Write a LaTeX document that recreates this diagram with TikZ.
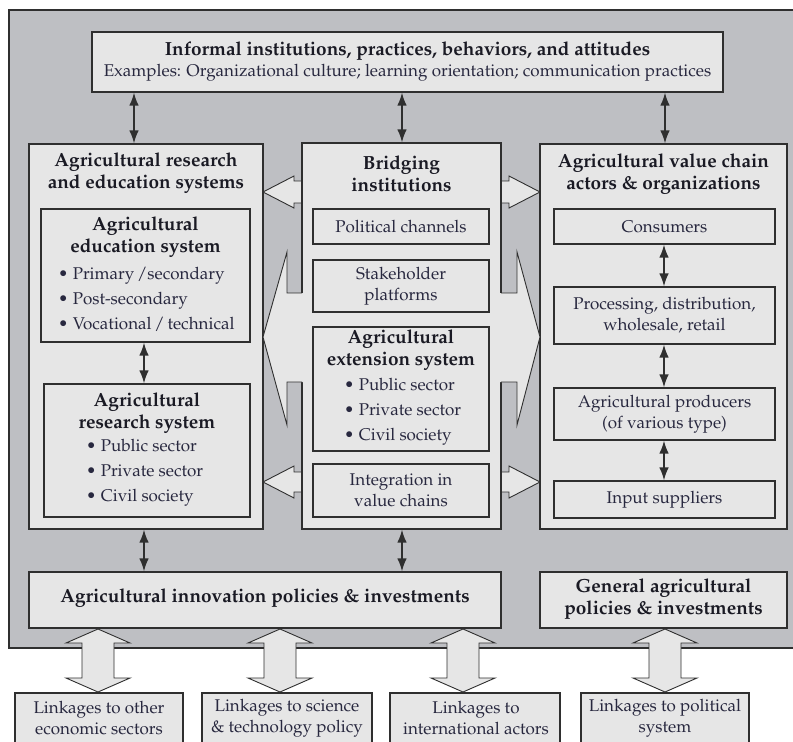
\documentclass[tikz,border=0pt]{standalone}
\usepackage[T1]{fontenc}
\renewcommand{\rmdefault}{ppl}
\usetikzlibrary{arrows.meta}
\definecolor{framegray}{HTML}{BEBFC3}
\definecolor{boxfill}{HTML}{E6E6E6}
\definecolor{edgec}{HTML}{2F2F2F}
\definecolor{titlec}{HTML}{1A1A24}
\definecolor{bodyc}{HTML}{28283F}
\begin{document}
\begin{tikzpicture}[x=1pt,y=-1pt,
  box/.style={draw=edgec, line width=1.1pt, fill=boxfill, inner sep=0pt, rectangle},
  ttl/.style={font=\fontsize{19}{22}\selectfont\bfseries, text=titlec, align=center, inner sep=0pt},
  txt/.style={font=\fontsize{17}{21}\selectfont, text=bodyc, align=center, inner sep=0pt},
  lst/.style={font=\fontsize{17}{25}\selectfont, text=bodyc, align=left, anchor=west, inner sep=0pt},
  dbl/.style={{Latex[length=13pt,width=9.5pt]}-{Latex[length=13pt,width=9.5pt]}, line width=1.7pt, draw=edgec},
  blk/.style={draw=edgec, line width=0.9pt, fill=boxfill, line join=miter}]
\useasboundingbox (0,0) rectangle (793,742);
\fill[white] (0,0) rectangle (793,742);
\clip (0,0) rectangle (793,742);

% outer frame
\node[draw=edgec, line width=1.2pt, fill=framegray, inner sep=0pt, minimum width=801pt, minimum height=638pt] (frame) at (409.5,329) {};

% side block arrows (top and bottom rows)
\draw[blk] (303,181) -- (294,181) -- (294,176) -- (263,192) -- (294,208) -- (294,203) -- (303,203) -- cycle;
\draw[blk] (500,181) -- (509,181) -- (509,176) -- (540,192) -- (509,208) -- (509,203) -- (500,203) -- cycle;
\draw[blk] (303,472) -- (294,472) -- (294,466) -- (263,482) -- (294,498) -- (294,492) -- (303,492) -- cycle;
\draw[blk] (500,472) -- (509,472) -- (509,466) -- (540,482) -- (509,498) -- (509,492) -- (500,492) -- cycle;

% bottom vertical double block arrows
\foreach \cx in {98,280,463,665}{
  \draw[blk] (\cx,629) -- (\cx+32,643) -- (\cx+16,643) -- (\cx+16,678) -- (\cx+32,678) -- (\cx,692)
     -- (\cx-32,678) -- (\cx-16,678) -- (\cx-16,643) -- (\cx-32,643) -- cycle;
}

% boxes
\node[box, minimum width=631pt, minimum height=60pt] (top) at (407.5,62) {};
\node[box, minimum width=234pt, minimum height=385pt] (ares) at (146,336.5) {};
\node[box, minimum width=209pt, minimum height=133pt] (edu) at (145.5,275.5) {};
\node[box, minimum width=206pt, minimum height=133pt] (res) at (147,450.5) {};
\node[box, minimum width=199pt, minimum height=386pt] (bridge) at (401.5,336) {};
\node[box, minimum width=247pt, minimum height=385pt] (vc) at (663.5,336.5) {};
\node[box, minimum width=472pt, minimum height=56pt] (innov) at (265,600) {};
\node[box, minimum width=247pt, minimum height=56pt] (gen) at (663.5,600) {};

% big wedges from the bridging box
\fill[boxfill] (304,293) -- (287,293) -- (287,252) -- (263,337) -- (287,425) -- (287,382) -- (304,382) -- cycle;
\draw[edgec, line width=0.9pt, line join=miter] (302,293) -- (287,293) -- (287,252) -- (263,337) -- (287,425) -- (287,382) -- (302,382);
\fill[boxfill] (499,293) -- (517,293) -- (517,252) -- (540,337) -- (517,425) -- (517,382) -- (499,382) -- cycle;
\draw[edgec, line width=0.9pt, line join=miter] (501,293) -- (517,293) -- (517,252) -- (540,337) -- (517,425) -- (517,382) -- (501,382);

% inner boxes
\node[box, minimum width=176pt, minimum height=35pt] (pol) at (401,226.5) {};
\node[box, minimum width=176pt, minimum height=52pt] (stake) at (401,286) {};
\node[box, minimum width=176pt, minimum height=124pt] (ext) at (401,389) {};
\node[box, minimum width=176pt, minimum height=53pt] (integ) at (401,490.5) {};
\node[box, minimum width=221pt, minimum height=35pt] (cons) at (664.5,226.5) {};
\node[box, minimum width=221pt, minimum height=57pt] (proc) at (664.5,315.5) {};
\node[box, minimum width=221pt, minimum height=52pt] (prod) at (664.5,414) {};
\node[box, minimum width=221pt, minimum height=37pt] (inp) at (664.5,499.5) {};

% bottom linkage boxes
\node[box, minimum width=168pt, minimum height=67pt] (l1) at (99,726.5) {};
\node[box, minimum width=170pt, minimum height=67pt] (l2) at (287,726.5) {};
\node[box, minimum width=170pt, minimum height=67pt] (l3) at (475,726.5) {};
\node[box, minimum width=168pt, minimum height=67pt] (l4) at (665,726.5) {};

% texts
\node[ttl] (topT) at (407.5,51) {Informal institutions, practices, behaviors, and attitudes};
\node[txt] (topS) at (407.5,73) {Examples: Organizational culture; learning orientation; communication practices};
\node[ttl] (aresT) at (146,173) {Agricultural research\\and education systems};
\node[ttl] (eduT) at (145.5,237) {Agricultural\\education system};
\node[lst] (eduL) at (58,299) {\textbullet\ Primary\,/secondary\\\textbullet\ Post-secondary\\\textbullet\ Vocational\,/\,technical};
\node[ttl] (resT) at (147,413) {Agricultural\\research system};
\node[lst] (resL) at (86,473) {\textbullet\ Public sector\\\textbullet\ Private sector\\\textbullet\ Civil society};
\node[ttl] (brT) at (401.5,174) {Bridging\\institutions};
\node[txt] (polT) at (401,226.5) {Political channels};
\node[txt] (stT) at (401,286) {Stakeholder\\platforms};
\node[ttl] (extT) at (401,350) {Agricultural\\extension system};
\node[lst] (extL) at (344,412) {\textbullet\ Public sector\\\textbullet\ Private sector\\\textbullet\ Civil society};
\node[txt] (intT) at (401,490.5) {Integration in\\value chains};
\node[ttl] (vcT) at (663.5,174) {Agricultural value chain\\actors \& organizations};
\node[txt] (consT) at (664.5,226.5) {Consumers};
\node[txt] (procT) at (664.5,315.5) {Processing, distribution,\\wholesale, retail};
\node[txt] (prodT) at (664.5,414) {Agricultural producers\\(of various type)};
\node[txt] (inpT) at (664.5,499.5) {Input suppliers};
\node[ttl] (innovT) at (265,598) {Agricultural innovation policies \& investments};
\node[ttl] (genT) at (663.5,599) {General agricultural\\policies \& investments};
\node[txt] (l1T) at (99,718) {Linkages to other\\economic sectors};
\node[txt] (l2T) at (287,718) {Linkages to science\\\& technology policy};
\node[txt] (l3T) at (476,718) {Linkages to\\international actors};
\node[txt] (l4T) at (665,718) {Linkages to political\\system};

% thin double arrows
\coordinate (xa) at (134,0);
\coordinate (xb) at (402,0);
\coordinate (xc) at (665,0);
\coordinate (xd) at (144,0);
\coordinate (xe) at (664,0);
\draw[dbl] (top.south -| xa) -- (ares.north -| xa);
\draw[dbl] (top.south -| xb) -- (bridge.north -| xb);
\draw[dbl] (top.south -| xc) -- (vc.north -| xc);
\draw[dbl] (edu.south -| xd) -- (res.north -| xd);
\draw[dbl] (ares.south -| xd) -- (innov.north -| xd);
\draw[dbl] (bridge.south -| xb) -- (innov.north -| xb);
\draw[dbl] (cons.south -| xe) -- (proc.north -| xe);
\draw[dbl] (proc.south -| xe) -- (prod.north -| xe);
\draw[dbl] (prod.south -| xe) -- (inp.north -| xe);
\end{tikzpicture}
\end{document}
